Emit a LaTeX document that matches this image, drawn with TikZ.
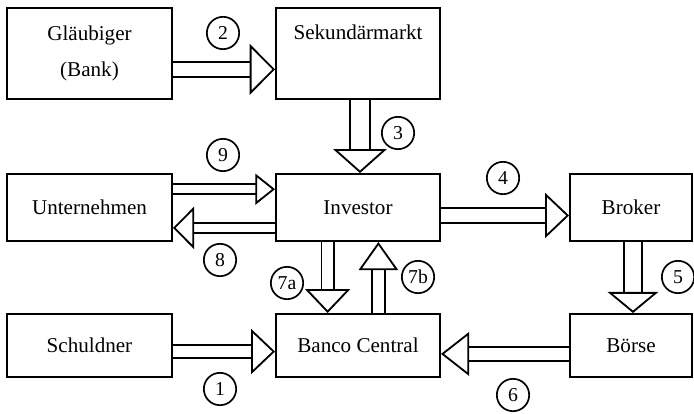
\documentclass[tikz,border=0pt]{standalone}
\usepackage{fontspec}
\setmainfont{Liberation Serif}
\usetikzlibrary{arrows.meta}
\tikzset{
  box/.style={draw, line width=1.4pt, inner sep=2pt, font=\fontsize{15}{25}\selectfont, align=center},
  num/.style={circle, draw, line width=1.2pt, minimum size=23pt, inner sep=0pt, font=\fontsize{14}{14}\selectfont},
  flow/.style={line width=1.3pt, double, double distance=8pt,
    -{Triangle[open, length=17pt, width=32pt, line width=1.3pt]}},
}
\begin{document}
\begin{tikzpicture}[x=0.025cm, y=-0.025cm]
      \useasboundingbox (0,0) rectangle (694,413);
      \draw
        (89.5,53.5) node[box, minimum width=165*0.025cm, minimum height=91*0.025cm] (glaeubiger){Gläubiger\\(Bank)}
        (358,53.5) node[box, minimum width=164*0.025cm, minimum height=91*0.025cm,
          label={[anchor=center, yshift=-18pt, font=\fontsize{15}{18}\selectfont]north:Sekundärmarkt}] (sekundaer){}
        (89.5,207.5) node[box, minimum width=165*0.025cm, minimum height=67*0.025cm] (unternehmen){Unternehmen}
        (358,207.5) node[box, minimum width=164*0.025cm, minimum height=67*0.025cm] (investor){Investor}
        (631,207.5) node[box, minimum width=122*0.025cm, minimum height=67*0.025cm] (broker){Broker}
        (89.5,345.5) node[box, minimum width=165*0.025cm, minimum height=63*0.025cm] (schuldner){Schuldner}
        (358,345.5) node[box, minimum width=164*0.025cm, minimum height=63*0.025cm] (banco){Banco Central}
        (631,345.5) node[box, minimum width=122*0.025cm, minimum height=63*0.025cm] (boerse){Börse};
      \draw
        (223,33) node[num] (n2){2}
        (398,133) node[num] (n3){3}
        (223,155) node[num] (n9){9}
        (220,260) node[num] (n8){8}
        (503,178) node[num] (n4){4}
        (287,283) node[num] (n7a){7a}
        (418,277) node[num] (n7b){7b}
        (678,277) node[num] (n5){5}
        (220,389) node[num] (n1){1}
        (513,395) node[num] (n6){6};
      \draw[flow, double distance=9.5pt, -{Triangle[open, length=18pt, width=36pt, line width=1.3pt]}]
        ([yshift=-11.3pt]glaeubiger.east) to ([yshift=-11.3pt]sekundaer.west);
      \draw[flow, double distance=13pt, -{Triangle[open, length=17pt, width=38pt, line width=1.3pt]}]
        ([xshift=1.4pt]sekundaer.south) to ([xshift=1.4pt]investor.north);
      \draw[flow, double distance=6pt, -{Triangle[open, length=14pt, width=22pt, line width=1.3pt]}]
        ([yshift=13pt]unternehmen.east) to ([yshift=13pt]investor.west);
      \draw[flow, double distance=6pt, -{Triangle[open, length=15pt, width=30pt, line width=1.3pt]}]
        ([yshift=-14.5pt]investor.west) to ([yshift=-14.5pt]unternehmen.east);
      \draw[flow, double distance=9.5pt] ([yshift=-5.7pt]investor.east) to ([yshift=-5.7pt]broker.west);
      \draw[flow, double distance=11pt, -{Triangle[open, length=15pt, width=36pt, line width=1.3pt]}]
        ([xshift=1.4pt]broker.south) to ([xshift=1.4pt]boerse.north);
      \draw[flow, double distance=7.5pt] ([xshift=-21.6pt]investor.south) to ([xshift=-21.6pt]banco.north);
      \draw[flow, -{Triangle[open, length=20pt, width=28pt, line width=1.3pt]}]
        ([xshift=14.5pt]banco.north) to ([xshift=14.5pt]investor.south);
      \draw[flow, double distance=9pt, -{Triangle[open, length=20pt, width=31pt, line width=1.3pt]}]
        ([yshift=-6pt]boerse.west) to ([yshift=-6pt]banco.east);
      \draw[flow, double distance=7.5pt] ([yshift=-4.3pt]schuldner.east) to ([yshift=-4.3pt]banco.west);
    \end{tikzpicture}
\end{document}
